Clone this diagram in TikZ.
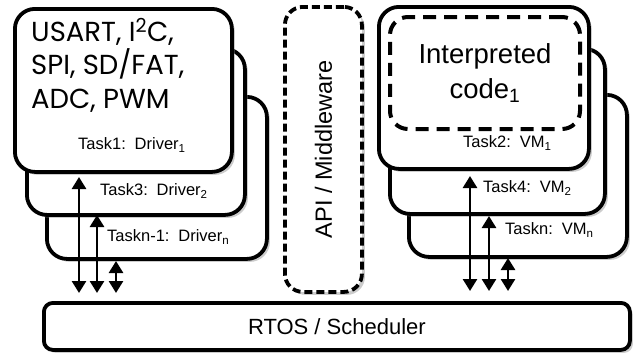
\documentclass[tikz,border=0pt]{standalone}
\usepackage{fontspec}
\setmainfont{Liberation Sans}
\newfontfamily\geofont{Poppins}
\usetikzlibrary{arrows.meta,shadows}
\begin{document}
\begin{tikzpicture}[x=1pt,y=-1pt,
  box/.style={draw, line width=3.8pt, rounded corners=20pt, fill=white,
    inner sep=0pt, anchor=north west,
    drop shadow={opacity=0.4, shadow xshift=3pt, shadow yshift=-3pt}},
  dbox/.style={draw, line width=3.8pt, rounded corners=18pt, fill=white,
    inner sep=0pt, anchor=north west, dash pattern=on 8pt off 4pt,
    drop shadow={opacity=0.4, shadow xshift=3pt, shadow yshift=-3pt}},
  ibox/.style={draw, line width=4pt, rounded corners=18pt,
    inner sep=0pt, anchor=north west, dash pattern=on 13pt off 8pt},
  tasklbl/.style={font=\fontsize{16.5}{18}\selectfont, anchor=west, inner sep=0pt},
  biarrow/.style={line width=2.6pt, {Triangle[length=12pt,width=14pt]}-{Triangle[length=12pt,width=14pt]}},
]
\useasboundingbox (0,0) rectangle (634,354);

% left stack
\node[box, minimum width=220pt, minimum height=162pt] (l3) at (45,95) {};
\node[box, minimum width=218pt, minimum height=166pt] (l2) at (25,47) {};
\node[box, minimum width=217pt, minimum height=163pt] (l1) at (13,7) {};

\node[anchor=north west, align=left, inner sep=0pt,
  font=\geofont\fontsize{27.5}{33.5}\selectfont] (hw) at (31,18)
  {USART, I\textsuperscript{2}C,\\SPI, SD/FAT,\\ADC, PWM};

\node[tasklbl] (t1) at (78,145) {Task1:\, Driver\textsubscript{1}};
\node[tasklbl] (t3) at (100,191) {Task3:\, Driver\textsubscript{2}};
\node[tasklbl] (tn1) at (107,237) {Taskn-1:\, Driver\textsubscript{n}};

% API box
\node[dbox, minimum width=77pt, minimum height=285pt] (api) at (283,5) {};
\node[rotate=90, font=\fontsize{23.5}{25}\selectfont] (apit) at ([yshift=0pt]api.center) {API / Middleware};

% right stack
\node[box, minimum width=218pt, minimum height=162pt] (r3) at (407,93) {};
\node[box, minimum width=215pt, minimum height=165pt] (r2) at (388,47) {};
\node[box, minimum width=210pt, minimum height=162pt] (r1) at (377,5) {};
\node[ibox, minimum width=190pt, minimum height=112pt] (ic) at (388,15) {};
\node[align=center, font=\fontsize{27.5}{35}\selectfont] (ict) at (ic.center) {Interpreted\\code\textsubscript{1}};

\node[tasklbl] (t2) at (463,143) {Task2:\, VM\textsubscript{1}};
\node[tasklbl] (t4) at (483,188) {Task4:\, VM\textsubscript{2}};
\node[tasklbl] (tn) at (505,230) {Taskn:\, VM\textsubscript{n}};

% RTOS
\node[box, rounded corners=9pt, minimum width=586pt, minimum height=47pt] (rtos) at (42,301) {};
\node[font=\fontsize{22}{24}\selectfont] (rtost) at (rtos.center) {RTOS / Scheduler};

% arrow endpoints
\coordinate (la1t) at (79,177);
\coordinate (la1b) at (79,293);
\coordinate (la2t) at (97,215);
\coordinate (la2b) at (97,293);
\coordinate (la3t) at (116,261);
\coordinate (la3b) at (116,293);
\coordinate (ra1t) at (470,176);
\coordinate (ra1b) at (470,291);
\coordinate (ra2t) at (489,216);
\coordinate (ra2b) at (489,291);
\coordinate (ra3t) at (508,258);
\coordinate (ra3b) at (508,291);

\draw[biarrow] (la1t) -- (la1b);
\draw[biarrow] (la2t) -- (la2b);
\draw[biarrow] (la3t) -- (la3b);
\draw[biarrow] (ra1t) -- (ra1b);
\draw[biarrow] (ra2t) -- (ra2b);
\draw[biarrow] (ra3t) -- (ra3b);
\end{tikzpicture}
\end{document}
